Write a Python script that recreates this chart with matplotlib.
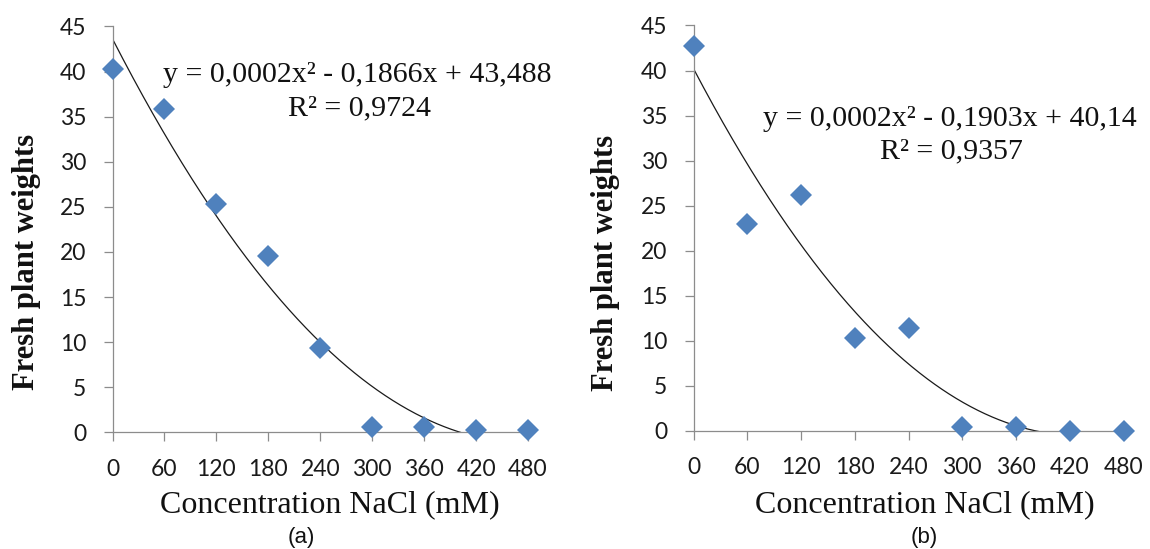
import numpy as np
import matplotlib
matplotlib.use("Agg")
import matplotlib.pyplot as plt

# ---- data ----
conc = [0, 60, 120, 180, 240, 300, 360, 420, 480]
weights_a = [40.3, 35.9, 25.3, 19.6, 9.3, 0.6, 0.6, 0.2, 0.2]
weights_b = [42.7, 23.0, 26.2, 10.3, 11.4, 0.4, 0.4, 0.0, 0.0]
eq_a = ["y = 0,0002x² - 0,1866x + 43,488", "R² = 0,9724"]
eq_b = ["y = 0,0002x² - 0,1903x + 40,14", "R² = 0,9357"]
yticks = [0, 5, 10, 15, 20, 25, 30, 35, 40, 45]
xticks = [0, 60, 120, 180, 240, 300, 360, 420, 480]
panel_labels = ["(a)", "(b)"]
xlabel = "Concentration NaCl (mM)"
ylabel = "Fresh plant weights"

W, H = 1150, 549
fig = plt.figure(figsize=(W / 100, H / 100), dpi=100)

SERIF = "Liberation Serif"
TICKF = "Lato"
BLUE = "#4F81BD"
GRAY = "#8c8c8c"

# axes rectangles in pixels: (x0, x480, y0, y45)
rects = [(112.5, 528.0, 432.3, 26.5), (693.5, 1123.5, 430.7, 25.5)]
eq_pos = [((357.5, 81.7), (359.5, 115)), ((950, 126.5), (951, 158))]
ylab_pos = [(27, 262), (606, 263)]
xlab_x = [330, 925]
xlab_y = 512
plab_pos = [(301.5, 537), (924, 537)]

for i, (w, eq) in enumerate([(weights_a, eq_a), (weights_b, eq_b)]):
    x0, x1, y0, y1 = rects[i]
    ax = fig.add_axes([x0 / W, (H - y0) / H, (x1 - x0) / W, (y0 - y1) / H])
    ax.set_xlim(0, 480)
    ax.set_ylim(0, 45)
    coef = np.polyfit(conc, w, 2)
    xs = np.linspace(0, 480, 600)
    ys = np.polyval(coef, xs)
    ax.plot(xs, ys, color="#1a1a1a", lw=0.9, zorder=2)
    ax.plot(conc, w, ls="none", marker="D", ms=11.3, color=BLUE, mec=BLUE,
            mew=0, clip_on=False, zorder=3)
    for s in ["top", "right"]:
        ax.spines[s].set_visible(False)
    for s in ["left", "bottom"]:
        ax.spines[s].set_color(GRAY)
        ax.spines[s].set_linewidth(0.9)
    ax.set_xticks(xticks)
    ax.set_yticks(yticks)
    ax.set_xticklabels([str(t) for t in xticks], fontfamily=TICKF, fontsize=16.5, color="#1a1a1a")
    ax.set_yticklabels([str(t) for t in yticks], fontfamily=TICKF, fontsize=16.5, color="#1a1a1a")
    ax.tick_params(axis="both", direction="out", length=6.5, width=0.9, color=GRAY)
    ax.tick_params(axis="y", pad=12.5)
    ax.tick_params(axis="x", pad=12.5)
    ax.patch.set_alpha(0)
    # equation text
    for (px, py), line in zip(eq_pos[i], eq):
        fig.text(px / W, 1 - py / H, line, ha="center", va="baseline",
                 fontfamily=SERIF, fontsize=21.5, color="#111111")
    fig.text(ylab_pos[i][0] / W, 1 - ylab_pos[i][1] / H, ylabel, rotation=90,
             ha="center", va="center", fontfamily=SERIF, fontweight="bold",
             fontsize=22, color="#111111")
    fig.text(xlab_x[i] / W, 1 - xlab_y / H, xlabel, ha="center",
             va="baseline", fontfamily=SERIF, fontsize=23, color="#111111")
    fig.text(plab_pos[i][0] / W, 1 - plab_pos[i][1] / H, panel_labels[i],
             ha="center", va="center", fontfamily="Liberation Sans", fontsize=16,
             color="#111111")

fig.savefig("out.png", dpi=100)
